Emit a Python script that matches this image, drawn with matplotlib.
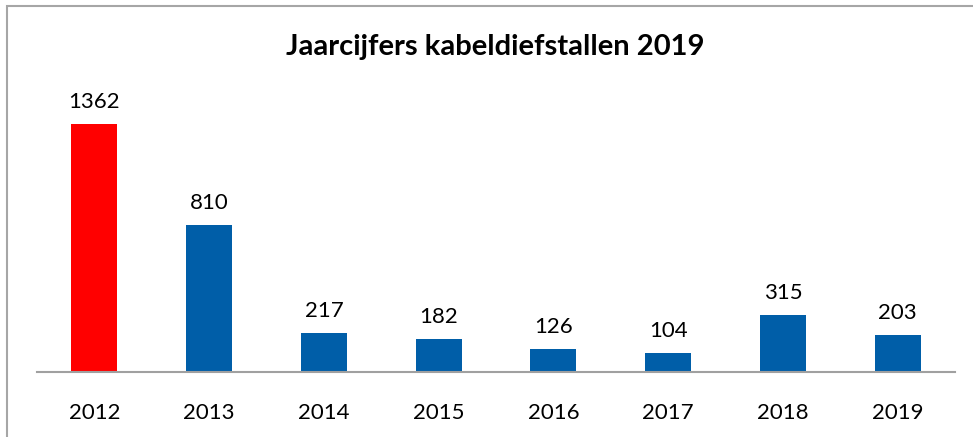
import matplotlib
matplotlib.use("Agg")
import matplotlib.pyplot as plt
from matplotlib.patches import Rectangle

years = ["2012", "2013", "2014", "2015", "2016", "2017", "2018", "2019"]
thefts = [1362, 810, 217, 182, 126, 104, 315, 203]
bar_colors = ["#ff0000"] + ["#005ea8"] * 7

plt.rcParams["font.family"] = ["Lato", "DejaVu Sans"]

W, H = 973, 437
fig = plt.figure(figsize=(W / 100, H / 100), dpi=100)

# chart frame (left and top edges visible, rest cut off)
fig.patches.append(Rectangle((7 / W, -0.1), 1.2, (H - 6) / H + 0.1,
                             transform=fig.transFigure, fill=False,
                             edgecolor="#a6a6a6", linewidth=1.5))

ax = fig.add_axes([37 / W, (H - 372) / H, 918 / W, 291 / H])
x = range(len(years))
bars = ax.bar(x, thefts, width=0.4, color=bar_colors)
ax.set_xlim(-0.5, len(years) - 0.5)
ax.set_ylim(0, 1600)

for rect, v in zip(bars, thefts):
    ax.text(rect.get_x() + rect.get_width() / 2, v + 65, str(v),
            ha="center", va="bottom", fontsize=16, color="#000000")

ax.set_xticks(list(x))
ax.set_xticklabels(years, fontsize=16)
ax.tick_params(axis="x", length=0, pad=22)
ax.set_yticks([])
for side in ["left", "right", "top"]:
    ax.spines[side].set_visible(False)
ax.spines["bottom"].set_color("#a0a0a0")
ax.spines["bottom"].set_linewidth(1.5)

fig.text(495 / W, 1 - 47 / H, "Jaarcijfers kabeldiefstallen 2019",
         ha="center", va="center", fontsize=21, fontweight="bold")

fig.savefig("out.png", dpi=100)
